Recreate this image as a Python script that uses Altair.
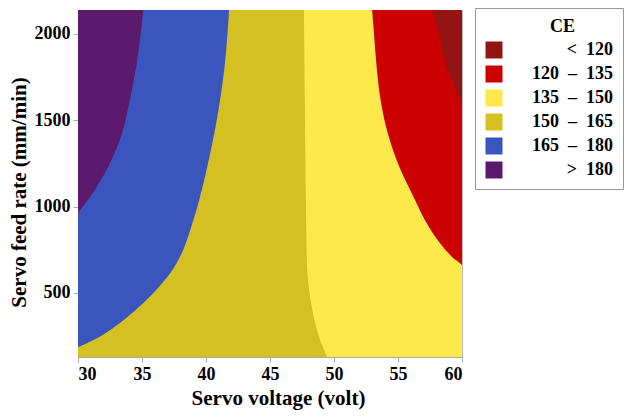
import altair as alt
import pandas as pd

# Legend classes and colours
NB = "\u00a0"
ZW = "\u200d"
bands = [f"<{NB*2}120", f"120{NB*2}–{NB*2}135", f"135{NB*2}–{NB*2}150",
         f"150{NB*2}–{NB*2}165", f"165{NB*2}–{NB*2}180", f">{NB*2}180"]
colors = ["#941414", "#cc0000", "#fde94a", "#d4c022", "#3a55be", "#5b1a6e"]

# Plot extent (servo voltage, servo feed rate)
x_extent = [30, 60]
y_extent = [129, 2139]
x_ticks = [30, 35, 40, 45, 50, 55, 60]
y_ticks = [500, 1000, 1500, 2000]

# Contour boundaries: feed rate (y) -> voltage (x)
# CE = 120 contour
b120_y = [129, 1579, 1695, 1811, 2004, 2139]
b120_x = [60, 60, 59.38, 58.8, 58.15, 57.68]
# CE = 135 contour
b135_y = [129, 652, 710, 788, 923, 1039, 1231, 1425, 1618, 1811, 2004, 2139]
b135_x = [60, 60.03, 59.2, 58.29, 57.1, 56.33, 55.1, 54.2, 53.64, 53.33, 53.12, 52.98]
# CE = 150 contour
b150_y = [129, 210, 303, 460, 651, 1039, 1618, 2139]
b150_x = [49.47, 49.0, 48.6, 48.17, 47.9, 47.8, 47.72, 47.65]
# CE = 165 contour
b165_y = [189, 247, 325, 421, 517, 614, 730, 884, 1020, 1231, 1425, 1618, 1811, 2004, 2139]
b165_x = [30.1, 31.7, 33.25, 34.8, 36.1, 37.2, 38.1, 38.85, 39.4, 40.1, 40.65, 41.1, 41.45, 41.68, 41.8]
# CE = 180 contour
b180_y = [963, 1056, 1230, 1427, 1618, 1810, 2005, 2139]
b180_x = [30.0, 30.95, 32.35, 33.45, 34.05, 34.55, 34.9, 35.1]

FONT = "Liberation Serif"

xscale = alt.Scale(domain=x_extent, nice=False, zero=False)
yscale = alt.Scale(domain=y_extent, nice=False, zero=False)
cscale = alt.Scale(domain=bands, range=colors)

legend = alt.Legend(
    title=f"{ZW}{NB*6}CE", orient="none", legendX=397, legendY=-2,
    symbolType="square", symbolSize=289, symbolStrokeWidth=0,
    titleAnchor="middle", titleFont=FONT, titleFontSize=18, titleFontWeight="bold",
    titleColor="black", titlePadding=5,
    labelFont=FONT, labelFontSize=18, labelFontWeight="bold", labelColor="black",
    labelAlign="right", labelOffset=110, labelLimit=300,
    padding=10, strokeColor="#999999", fillColor="white", rowPadding=6,
)

bg_df = pd.DataFrame({"x": [x_extent[0]], "x2": [x_extent[1]],
                      "y": [y_extent[0]], "y2": [y_extent[1]], "band": [bands[0]]})
background = alt.Chart(bg_df).mark_rect().encode(
    x=alt.X("x:Q", scale=xscale, title="Servo voltage (volt)",
            axis=alt.Axis(values=x_ticks, format="d", titleX=200)),
    x2="x2:Q",
    y=alt.Y("y:Q", scale=yscale, title="Servo feed rate (mm/min)",
            axis=alt.Axis(values=y_ticks, format="d", titleY=182)),
    y2="y2:Q",
    color=alt.Color("band:N", scale=cscale, legend=legend),
)

layers = [background]
for band, ys, xs in [
    (bands[1], b120_y, b120_x),
    (bands[2], b135_y, b135_x),
    (bands[3], b150_y, b150_x),
    (bands[4], b165_y, b165_x),
    (bands[5], b180_y, b180_x),
]:
    df = pd.DataFrame({"y": ys, "x": xs, "x0": [x_extent[0]] * len(ys), "band": [band] * len(ys)})
    layers.append(
        alt.Chart(df).mark_area(orient="horizontal", interpolate="monotone", clip=True).encode(
            y=alt.Y("y:Q", scale=yscale),
            x=alt.X("x:Q", scale=xscale),
            x2="x0:Q",
            color=alt.Color("band:N", scale=cscale, legend=legend),
        )
    )

chart = alt.layer(*layers).properties(
    width=384, height=347, autosize="none",
    padding={"left": 78, "top": 10, "right": 163, "bottom": 60},
).configure_view(stroke="#bbbbbb", strokeWidth=1).configure_axis(
    grid=False, labelFont=FONT, labelFontSize=18, labelFontWeight="bold", labelColor="black",
    titleFont=FONT, titleFontSize=21, titleFontWeight="bold", titleColor="black",
    domainColor="#aaaaaa", tickColor="#aaaaaa", tickSize=5, labelPadding=3,
).configure_axisX(titlePadding=4).configure_axisY(titlePadding=5)

chart.save("out.html", embed_options={"renderer": "svg", "actions": False})
